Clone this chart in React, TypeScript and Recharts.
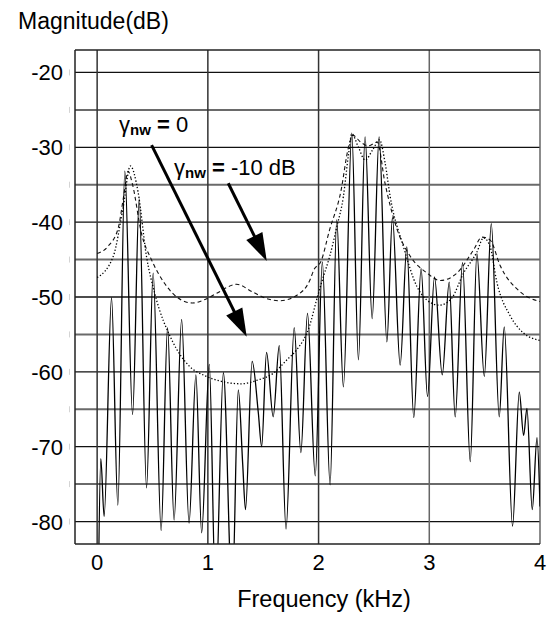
import React from "react";
import { LineChart, Line, XAxis, YAxis, ReferenceLine } from "recharts";

// harmonic spectrum (solid), peaks and valleys
const freqSpec = [
  0.01, 0.033, 0.063, 0.13, 0.187, 0.25, 0.32, 0.38, 0.446, 0.506, 0.578, 0.636,
  0.695, 0.763, 0.83, 0.892, 0.944, 1.013, 1.07, 1.14, 1.22, 1.275, 1.315, 1.34,
  1.4, 1.456, 1.486, 1.53, 1.59, 1.645, 1.706, 1.78, 1.84, 1.9, 1.97, 2.034,
  2.104, 2.164, 2.224, 2.3, 2.36, 2.42, 2.484, 2.547, 2.617, 2.667, 2.737, 2.797,
  2.86, 2.926, 2.984, 3.047, 3.117, 3.18, 3.234, 3.3, 3.37, 3.43, 3.497, 3.56,
  3.632, 3.677, 3.752, 3.813, 3.852, 3.882, 3.93, 3.973, 4.0,
];
const dbSpec = [
  -90, -71.6, -79.3, -50.1, -77.8, -33.2, -65.7, -36.9, -75.5, -46.8, -81.2, -54.1,
  -79.8, -53, -80.2, -60.4, -81.5, -59, -90, -60.1, -90, -62.4, -72.4, -78.4,
  -58.6, -65.5, -70, -57.4, -66, -56.5, -81, -54.1, -70.8, -52.2, -73.9, -45.3,
  -75.1, -39.7, -62, -28.1, -58.4, -28.6, -52.9, -28.6, -56, -39.4, -59.1, -43.3,
  -66.1, -46.2, -63.3, -47.3, -60.4, -48, -66, -45.4, -72, -44.2, -60.6, -40.2,
  -66, -54, -80.6, -62.7, -68.5, -64.9, -78.4, -68.8, -78,
];

// envelope, gamma_nw = -10 dB (dashed)
const freqNw10 = [
  0, 0.1, 0.19, 0.24, 0.28, 0.32, 0.4, 0.49, 0.61, 0.76, 0.86, 0.98, 1.08, 1.26,
  1.4, 1.53, 1.65, 1.8, 1.92, 1.96, 2.02, 2.1, 2.2, 2.27, 2.31, 2.38, 2.45, 2.53,
  2.6, 2.71, 2.83, 2.98, 3.1, 3.25, 3.4, 3.475, 3.55, 3.64, 3.82, 4.0,
];
const dbNw10 = [
  -44.2, -43.2, -40.8, -36.5, -33.2, -35, -41.5, -45, -48.2, -50.4, -50.8, -50.3,
  -49.5, -48.3, -49.3, -50.2, -50.5, -49.8, -47.8, -46.3, -45.3, -41, -36, -30,
  -28.4, -29.3, -29.8, -29.3, -34.8, -41, -44.6, -46.8, -47.8, -46.8, -43.7, -42,
  -42.4, -45.8, -49.3, -50.6,
];

// envelope, gamma_nw = 0 (dotted)
const freqNw0 = [
  0, 0.145, 0.235, 0.3, 0.37, 0.446, 0.52, 0.68, 0.83, 0.97, 1.13, 1.3, 1.45,
  1.59, 1.72, 1.8, 1.92, 1.98, 2.043, 2.1, 2.165, 2.224, 2.27, 2.3, 2.36, 2.42,
  2.49, 2.55, 2.6, 2.647, 2.767, 2.888, 2.978, 3.09, 3.2, 3.31, 3.43, 3.49, 3.55,
  3.61, 3.73, 3.85, 4.0,
];
const dbNw0 = [
  -47.4, -44.6, -38, -32.5, -36, -44.6, -49.5, -55.9, -59.2, -60.5, -61.3, -61.6,
  -61.1, -60.2, -58.3, -57.1, -53.8, -50.5, -47.3, -44.6, -40.6, -36.6, -31, -28.2,
  -30, -31.7, -30.3, -29, -32, -36.6, -43.3, -48.6, -50.4, -51.1, -50.2, -46.8,
  -44, -42.1, -43.3, -48, -52.5, -54.8, -55.8,
];

const xTicks = [0, 1, 2, 3, 4];
const yTicks = [-80, -75, -70, -65, -60, -55, -50, -45, -40, -35, -30, -25, -20];

const zip = (f: number[], d: number[]) => f.map((v, i) => ({ f: v, db: d[i] }));
const specData = zip(freqSpec, dbSpec);
const nw10Data = zip(freqNw10, dbNw10);
const nw0Data = zip(freqNw0, dbNw0);

const FONT = "'Liberation Sans', Arial, sans-serif";

const Arrow = (p: any) => {
  const { x1, y1, x2, y2 } = p;
  const dx = x2 - x1;
  const dy = y2 - y1;
  const len = Math.hypot(dx, dy);
  const ux = dx / len;
  const uy = dy / len;
  const hl = 28;
  const hw = 9;
  const bx = x2 - ux * hl;
  const by = y2 - uy * hl;
  return (
    <g>
      <line x1={x1} y1={y1} x2={bx + ux * 3} y2={by + uy * 3} stroke="#000" strokeWidth={3} />
      <polygon
        points={`${x2},${y2} ${bx - uy * hw},${by + ux * hw} ${bx + uy * hw},${by - ux * hw}`}
        fill="#000"
      />
    </g>
  );
};

const YTick = ({ y, payload }: any) => (
  <g>
    <line x1={69.5} x2={69.5} y1={y - 3} y2={y + 3} stroke="#d4d4d4" />
    {payload.value % 10 === 0 && (
      <text x={63} y={y + 8} textAnchor="end" fontSize={22} fontFamily={FONT} fill="#000">
        {payload.value}
      </text>
    )}
  </g>
);

const XTick = ({ x, payload }: any) => (
  <text x={x} y={569.5} textAnchor="middle" fontSize={22} fontFamily={FONT} fill="#000">
    {payload.value}
  </text>
);

export default function App() {
  return (
    <div style={{ position: "absolute", left: 0, top: 0, width: 555, height: 617, background: "#fff" }}>
      <LineChart width={555} height={617} margin={{ top: 50, right: 15, bottom: 43, left: 0 }}>
        {yTicks.map((t) => (
          <ReferenceLine
            key={"h" + t}
            y={t}
            stroke={t % 10 === 0 ? "#111" : "#6a6a6a"}
            strokeWidth={t % 10 === 0 ? 1.3 : 2}
          />
        ))}
        {xTicks.map((t) => (
          <ReferenceLine key={"v" + t} x={t} stroke={t >= 3 ? "#666" : "#333"} strokeWidth={1.5} />
        ))}
        <ReferenceLine y={-17} stroke="#222" strokeWidth={1.5} />
        <XAxis
          type="number"
          dataKey="f"
          domain={[-0.2, 4]}
          ticks={xTicks}
          allowDataOverflow
          height={30}
          tickLine={false}
          axisLine={{ stroke: "#222", strokeWidth: 1.5 }}
          tick={<XTick />}
        />
        <YAxis
          type="number"
          dataKey="db"
          domain={[-83, -17]}
          ticks={yTicks}
          allowDataOverflow
          width={75}
          tickLine={false}
          axisLine={{ stroke: "#222", strokeWidth: 1.5 }}
          tick={<YTick />}
        />
        <Line
          data={nw10Data}
          dataKey="db"
          type="monotone"
          stroke="#111"
          strokeWidth={1.1}
          strokeDasharray="4 3"
          dot={false}
          isAnimationActive={false}
        />
        <Line
          data={nw0Data}
          dataKey="db"
          type="monotone"
          stroke="#000"
          strokeWidth={1.3}
          strokeDasharray="1.3 2"
          dot={false}
          isAnimationActive={false}
        />
        <Line
          data={specData}
          dataKey="db"
          type="monotone"
          stroke="#000"
          strokeWidth={1.3}
          dot={false}
          isAnimationActive={false}
        />
        <ReferenceLine
          segment={[{ x: 0.492, y: -29.7 }, { x: 1.351, y: -55.3 }]}
          shape={Arrow}
          ifOverflow="visible"
        />
        <ReferenceLine
          segment={[{ x: 1.184, y: -34.8 }, { x: 1.532, y: -45.2 }]}
          shape={Arrow}
          ifOverflow="visible"
        />
      </LineChart>
      <svg
        width={555}
        height={617}
        style={{ position: "absolute", left: 0, top: 0, pointerEvents: "none" }}
        fontFamily={FONT}
      >
        <text x={18} y={28.5} fontSize={23} fill="#000">
          Magnitude(dB)
        </text>
        <text x={324} y={606.5} fontSize={23.5} textAnchor="middle" fill="#000">
          Frequency (kHz)
        </text>
        <text x={119} y={132} fontSize={22} fill="#000">
          γ
          <tspan fontSize={15} fontWeight="bold" dy={3}>
            nw
          </tspan>
          <tspan dy={-3} fontWeight="bold">
            {" = "}
          </tspan>
          <tspan>0</tspan>
        </text>
        <text x={174} y={175} fontSize={22} fill="#000">
          γ
          <tspan fontSize={15} fontWeight="bold" dy={3}>
            nw
          </tspan>
          <tspan dy={-3} fontWeight="bold">
            {" = "}
          </tspan>
          <tspan>-10 dB</tspan>
        </text>
      </svg>
    </div>
  );
}
